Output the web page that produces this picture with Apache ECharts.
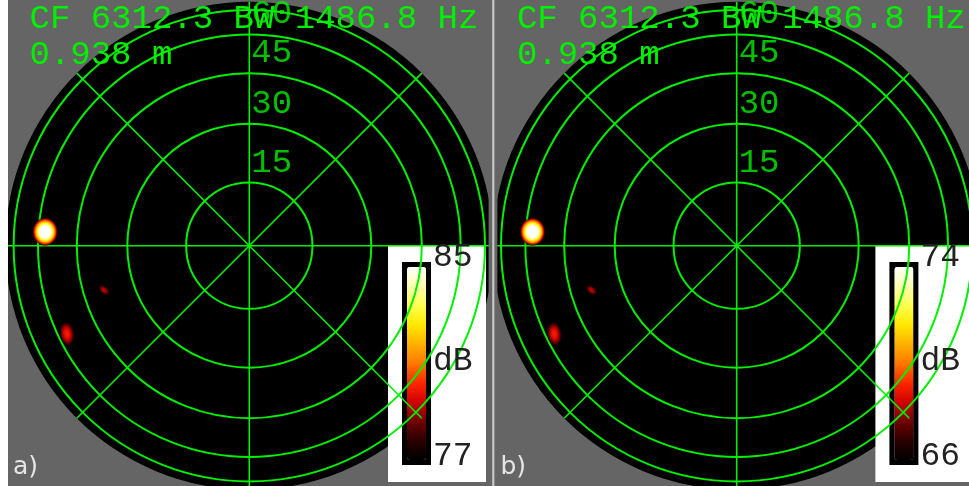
<!DOCTYPE html>
<html><head><meta charset="utf-8">
<script src="https://cdn.jsdelivr.net/npm/echarts@6/dist/echarts.min.js"></script>
<style>html,body{margin:0;padding:0;background:#fff}#c{width:969px;height:486px}</style>
</head><body><div id="c"></div>
<script>
// ---------- data ----------
const panelNames = ['a)', 'b)'];
const headerLine1 = 'CF 6312.3 BW 1486.8 Hz';
const headerLine2 = '0.938 m';
const ringAngles = [15, 30, 45, 60, 75];          // zenith angle of grid rings (deg)
const ringLabels = ['15', '30', '45', '60'];
const spokeStep = 45;                              // azimuth grid step (deg)
const spotZenith = [57.0, 38.5, 56.1];             // hot spots: zenith angle (deg)
const spotAzimuth = [273.9, 253.0, 244.2];         // hot spots: azimuth, clockwise from top (deg)
const spotPeakA = [86.3, 79.3, 80.0];              // dB, panel a
const spotPeakB = [75.3, 68.3, 69.0];              // dB, panel b
const cbarMax = [85, 74];
const cbarMin = [77, 66];
const cbarUnit = 'dB';

// ---------- style ----------
const GREEN = '#00f000';
const GRAY = '#656565';
const cmapColors = ['#000000','#2a0000','#700000','#d00000','#ff2800','#ff7800','#ffb000','#ffe800','#ffff50','#ffffb0','#ffffff'];
const spotW = [26, 13, 15], spotH = [29, 8, 25], spotRot = [0, 40, -8];
const CX = [249.3, 736.7], CY = 245.7, R = 244;
const MONO = '"Liberation Mono", "Courier New", monospace';
const rad = Math.PI / 180;

function hex2rgb(h){return [parseInt(h.substr(1,2),16),parseInt(h.substr(3,2),16),parseInt(h.substr(5,2),16)];}
function cmap(t){
  t = Math.max(0, Math.min(1, t));
  const n = cmapColors.length - 1, f = t * n, i = Math.min(n - 1, Math.floor(f)), u = f - i;
  const a = hex2rgb(cmapColors[i]), b = hex2rgb(cmapColors[i+1]);
  return a.map((v,k)=>Math.round(v + (b[k]-v)*u));
}
function spotGradient(peak, lo, hi){
  const stops = [];
  const N = 12;
  for (let k = 0; k <= N; k++){
    const t = k / N;
    const v = peak - (peak - lo) * t * t;
    const c = cmap((v - lo) / (hi - lo));
    const a = k === N ? 0 : (k === N-1 ? 0.8 : 1);
    stops.push({offset: t, color: 'rgba(' + c.join(',') + ',' + a + ')'});
  }
  return {type:'radial', x:0.5, y:0.5, r:0.5, colorStops: stops};
}

const polar = [], angleAxis = [], radiusAxis = [], series = [], visualMap = [], graphic = [];
for (let p = 0; p < 2; p++){
  const dx = CX[p] - CX[0];
  const peaks = p === 0 ? spotPeakA : spotPeakB;
  polar.push({center:[CX[p], CY], radius:R});
  polar.push({center:[CX[p], CY], radius:R});
  angleAxis.push({polarIndex:2*p, min:0, max:360, interval:90, startAngle:90, clockwise:true, z:0,
    axisLine:{show:false}, axisTick:{show:false}, axisLabel:{show:false}, splitLine:{show:false},
    splitArea:{show:true, areaStyle:{color:['#000000']}}});
  radiusAxis.push({polarIndex:2*p, type:'value', min:0, max:1, z:0,
    axisLine:{show:false}, axisTick:{show:false}, axisLabel:{show:false}, splitLine:{show:false}});
  angleAxis.push({polarIndex:2*p+1, min:0, max:360, interval:spokeStep, startAngle:90, clockwise:true, z:3,
    axisLine:{show:false}, axisTick:{show:false}, axisLabel:{show:false},
    splitLine:{show:true, lineStyle:{color:GREEN, width:1.6}}, splitArea:{show:false}});
  radiusAxis.push({polarIndex:2*p+1, type:'value', min:0, max:1, z:3,
    axisLine:{show:false}, axisLabel:{show:false},
    axisTick:{show:false, customValues: ringAngles.map(a=>Math.sin(a*rad))},
    splitLine:{show:true, lineStyle:{color:GREEN, width:2}}});

  // ring labels
  series.push({type:'scatter', coordinateSystem:'polar', polarIndex:2*p+1, silent:true, z:5,
    data: ringLabels.map((l,i)=>[Math.sin(ringAngles[i]*rad), 0]),
    symbolSize:2, itemStyle:{color:'rgba(0,0,0,0)'},
    label:{show:true, position:'right', distance:1, offset:[0,-20],
      formatter: q => ringLabels[q.dataIndex], color:GREEN, fontFamily:MONO, fontSize:34}});

  // hot spots
  series.push({type:'custom', coordinateSystem:'polar', polarIndex:2*p+1, silent:true, z:4,
    data: spotZenith.map((z,i)=>[Math.sin(z*rad), spotAzimuth[i], peaks[i]]),
    renderItem: function(params, api){
      const i = params.dataIndex;
      const pt = api.coord([api.value(0), api.value(1)]);
      const r = spotH[i] / 2;
      return {type:'circle', x:pt[0], y:pt[1], scaleX: spotW[i]/spotH[i], scaleY:1,
        rotation: -spotRot[i]*rad,
        shape:{cx:0, cy:0, r:r},
        style:{fill: spotGradient(api.value(2), cbarMin[p], cbarMax[p])}};
    }});

  visualMap.push({type:'continuous', min:cbarMin[p], max:cbarMax[p], orient:'vertical',
    left:402 + dx, top:262, itemWidth:19, itemHeight:193, padding:5, backgroundColor:'#000',
    calculable:false, seriesIndex:[], inRange:{color:cmapColors}, z:2});

  graphic.push({type:'rect', z:1, shape:{x:388+dx, y:246, width:98, height:236}, style:{fill:'#ffffff'}});
  graphic.push({type:'text', z:6, x:29.5+dx, y:18.5, style:{text:headerLine1, font:'34px ' + MONO, fill:GREEN, textAlign:'left', textVerticalAlign:'middle', align:'left', verticalAlign:'middle'}});
  graphic.push({type:'text', z:6, x:29.5+dx, y:55, style:{text:headerLine2, font:'34px ' + MONO, fill:GREEN, textAlign:'left', textVerticalAlign:'middle', align:'left', verticalAlign:'middle'}});
  graphic.push({type:'text', z:6, x:433+dx, y:257, style:{text:String(cbarMax[p]), font:'33px ' + MONO, fill:'#222', textAlign:'left', textVerticalAlign:'middle', align:'left', verticalAlign:'middle'}});
  graphic.push({type:'text', z:6, x:433+dx, y:361, style:{text:cbarUnit, font:'33px ' + MONO, fill:'#222', textAlign:'left', textVerticalAlign:'middle', align:'left', verticalAlign:'middle'}});
  graphic.push({type:'text', z:6, x:433+dx, y:456, style:{text:String(cbarMin[p]), font:'33px ' + MONO, fill:'#222', textAlign:'left', textVerticalAlign:'middle', align:'left', verticalAlign:'middle'}});
  graphic.push({type:'text', z:6, x:13+dx, y:467, style:{text:panelNames[p], font:'25px "DejaVu Sans"', fill:'#e6e6e6', textAlign:'left', textVerticalAlign:'middle', align:'left', verticalAlign:'middle'}});
}
graphic.push({type:'rect', z:10, shape:{x:0, y:0, width:8, height:486}, style:{fill:'#ffffff'}});
graphic.push({type:'rect', z:10, shape:{x:488.6, y:0, width:8.8, height:486}, style:{fill:GRAY}});
graphic.push({type:'rect', z:11, shape:{x:492.2, y:0, width:2.2, height:486}, style:{fill:'#c8c8c8'}});

const chart = echarts.init(document.getElementById('c'), null, {renderer:'canvas'});
chart.setOption({
  backgroundColor: GRAY,
  animation: false,
  polar, angleAxis, radiusAxis, visualMap, series, graphic
});
</script></body></html>
